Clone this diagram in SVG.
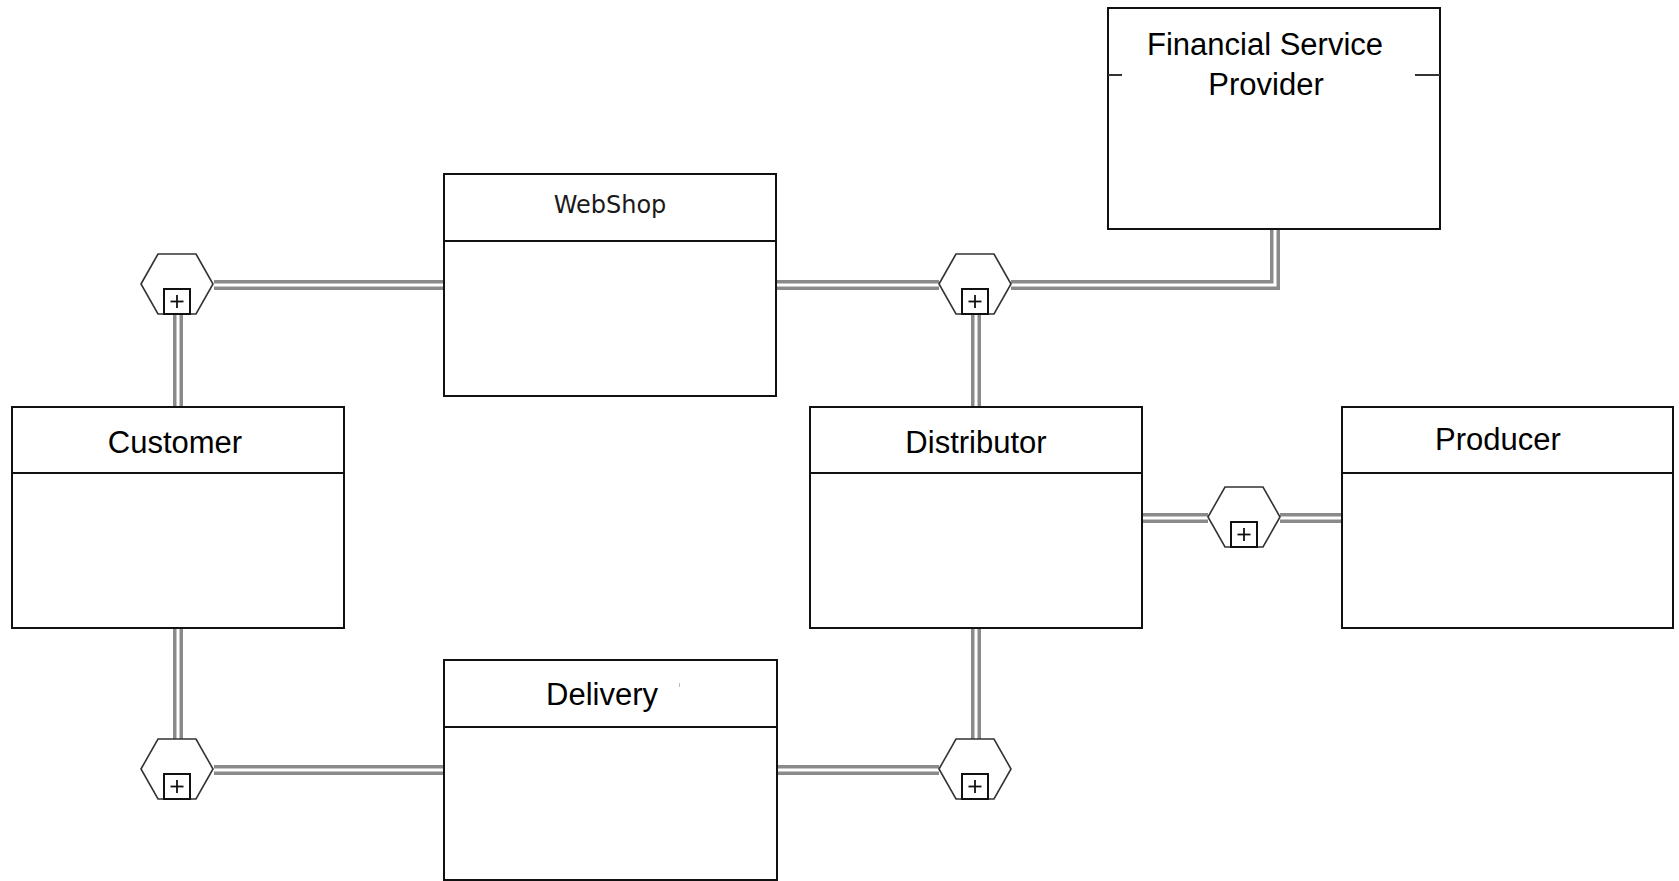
<svg xmlns="http://www.w3.org/2000/svg" width="1679" height="881" viewBox="0 0 1679 881">
<style>
.box{fill:#fff;stroke:#111;stroke-width:2}
.hdr{stroke:#111;stroke-width:2}
.lbl{font-family:"Liberation Sans",Arial,sans-serif;font-size:31px;fill:#000;text-anchor:middle}
.ws{font-family:"DejaVu Sans",sans-serif;font-size:24px;fill:#1a1a1a;text-anchor:middle}
.hex{fill:#fff;stroke:#333;stroke-width:1.6}
.pbox{fill:#fff;stroke:#111;stroke-width:2}
.plus{stroke:#111;stroke-width:1.8}
.c1{fill:none;stroke:#8a8a8a;stroke-width:10;stroke-linejoin:miter}
.c2{fill:none;stroke:#fff;stroke-width:3;stroke-linejoin:miter}
.tick{stroke:#333;stroke-width:2}
</style>
<defs>
<g id="ag">
<polygon class="hex" points="-36,0 -19,-30 19,-30 36,0 19,30 -19,30"/>
<rect class="pbox" x="-13" y="5" width="26" height="25"/>
<line class="plus" x1="-6.5" y1="17.5" x2="6.5" y2="17.5"/>
<line class="plus" x1="0" y1="11" x2="0" y2="24"/>
</g>
</defs>
<g id="connectors">
<g class="c1">
<line x1="214" y1="285" x2="444" y2="285"/>
<line x1="178" y1="314" x2="178" y2="407"/>
<line x1="776" y1="285" x2="939" y2="285"/>
<polyline points="1011,285 1275,285 1275,229"/>
<line x1="976" y1="314" x2="976" y2="407"/>
<line x1="1142" y1="518" x2="1208" y2="518"/>
<line x1="1280" y1="518" x2="1342" y2="518"/>
<line x1="976" y1="628" x2="976" y2="739"/>
<line x1="178" y1="628" x2="178" y2="739"/>
<line x1="214" y1="770" x2="444" y2="770"/>
<line x1="777" y1="770" x2="939" y2="770"/>
</g>
<g class="c2">
<line x1="214" y1="285" x2="444" y2="285"/>
<line x1="178" y1="314" x2="178" y2="407"/>
<line x1="776" y1="285" x2="939" y2="285"/>
<polyline points="1011,285 1275,285 1275,229"/>
<line x1="976" y1="314" x2="976" y2="407"/>
<line x1="1142" y1="518" x2="1208" y2="518"/>
<line x1="1280" y1="518" x2="1342" y2="518"/>
<line x1="976" y1="628" x2="976" y2="739"/>
<line x1="178" y1="628" x2="178" y2="739"/>
<line x1="214" y1="770" x2="444" y2="770"/>
<line x1="777" y1="770" x2="939" y2="770"/>
</g>
</g>
<g id="webshop">
<rect class="box" x="444" y="174" width="332" height="222"/>
<line class="hdr" x1="444" y1="241" x2="776" y2="241"/>
<text class="ws" x="610" y="213">WebShop</text>
</g>
<g id="fsp">
<rect class="box" x="1108" y="8" width="332" height="221"/>
<line class="tick" x1="1108" y1="75" x2="1122" y2="75"/>
<line class="tick" x1="1415" y1="75" x2="1440" y2="75"/>
<text class="lbl" x="1265" y="55">Financial Service</text>
<text class="lbl" x="1266" y="95">Provider</text>
</g>
<g id="customer">
<rect class="box" x="12" y="407" width="332" height="221"/>
<line class="hdr" x1="12" y1="473" x2="344" y2="473"/>
<text class="lbl" x="175" y="453">Customer</text>
</g>
<g id="distributor">
<rect class="box" x="810" y="407" width="332" height="221"/>
<line class="hdr" x1="810" y1="473" x2="1142" y2="473"/>
<text class="lbl" x="976" y="453">Distributor</text>
</g>
<g id="producer">
<rect class="box" x="1342" y="407" width="331" height="221"/>
<line class="hdr" x1="1342" y1="473" x2="1673" y2="473"/>
<text class="lbl" x="1498" y="450">Producer</text>
</g>
<g id="delivery">
<rect class="box" x="444" y="660" width="333" height="220"/>
<line class="hdr" x1="444" y1="727" x2="777" y2="727"/>
<text class="lbl" x="602" y="705">Delivery</text>
<line x1="679.5" y1="683" x2="679.5" y2="687" stroke="#bbb" stroke-width="1"/>
</g>
<g id="agg1"><use href="#ag" x="177" y="284"/></g>
<g id="agg2"><use href="#ag" x="975" y="284"/></g>
<g id="agg3"><use href="#ag" x="1244" y="517"/></g>
<g id="agg4"><use href="#ag" x="177" y="769"/></g>
<g id="agg5"><use href="#ag" x="975" y="769"/></g>
</svg>
